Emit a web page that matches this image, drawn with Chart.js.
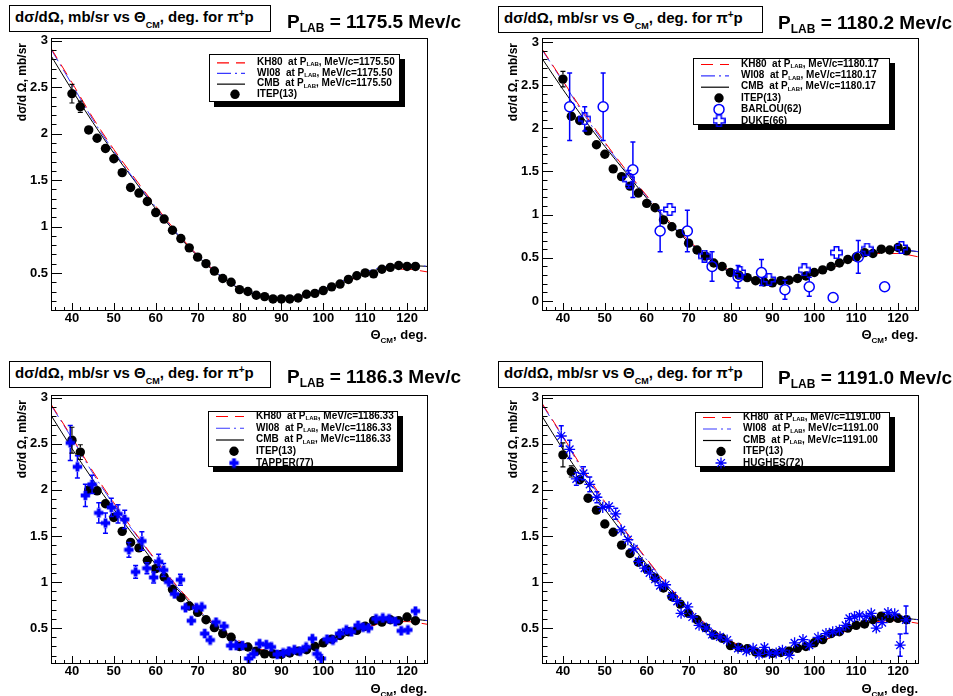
<!DOCTYPE html>
<html>
<head>
<meta charset="utf-8">
<script src="https://cdn.jsdelivr.net/npm/chart.js@4.4.1/dist/chart.umd.min.js"></script>
<style>
  body { margin: 0; background: #fff; }
  #page { position: relative; width: 953px; height: 696px; overflow: hidden;
          font-family: 'Liberation Sans', Arial, Helvetica, sans-serif; font-weight: bold; color: #000; }
  .pane { position: absolute; }
  .tbox { position: absolute; z-index: 2; box-sizing: border-box; height: 27px; border: 1px solid #000;
          background: #fff; font-size: 15px; line-height: 15px; padding: 3px 0 0 5px; white-space: nowrap; }
  .tbox sub { font-size: 9px; line-height: 0; vertical-align: -6px; }
  .tbox sup { font-size: 10px; line-height: 0; vertical-align: 5px; }
  .plab { position: absolute; z-index: 2; font-size: 19px; line-height: 19px; white-space: nowrap; }
  .plab sub { font-size: 12px; line-height: 0; vertical-align: -4px; }
  .ytitle { position: absolute; z-index: 2; font-size: 12px; line-height: 12px; white-space: nowrap;
            writing-mode: vertical-rl; transform: rotate(180deg); }
  .xtitle { position: absolute; z-index: 2; font-size: 13px; line-height: 13px; white-space: nowrap; }
  .xtitle sub { font-size: 8px; line-height: 0; vertical-align: -4px; }
</style>
</head>
<body>
<div id="page"></div>
<script>
// ---------------------------------------------------
// pi+ p elastic dσ/dΩ, four momenta — ROOT style look
// ---------------------------------------------------

const X_TICKS = [40, 50, 60, 70, 80, 90, 100, 110, 120];
const Y_TICKS = [0, 0.5, 1, 1.5, 2, 2.5, 3];

const MOMENTA = ['1175.50', '1180.17', '1186.33', '1191.00'];
const PLAB_LABELS = ['1175.5', '1180.2', '1186.3', '1191.0'];

// theory curves (PWA solutions)
const CURVE_ANGLES = [35, 40, 45, 50, 55, 60, 65, 70, 75, 80, 85, 90, 95, 100, 105, 110, 115, 120, 125];
const KH80_1 = [2.92, 2.55, 2.17, 1.83, 1.52, 1.22, 0.94, 0.69, 0.49, 0.34, 0.26, 0.23, 0.25, 0.31, 0.40, 0.48, 0.54, 0.54, 0.51];
const WI08_1 = [2.91, 2.53, 2.15, 1.81, 1.50, 1.21, 0.93, 0.69, 0.49, 0.34, 0.26, 0.23, 0.26, 0.33, 0.42, 0.51, 0.57, 0.59, 0.57];
const CMB_1  = [2.84, 2.47, 2.12, 1.79, 1.49, 1.19, 0.92, 0.68, 0.48, 0.33, 0.25, 0.22, 0.24, 0.31, 0.40, 0.49, 0.56, 0.58, 0.57];
const KH80_2 = [2.92, 2.55, 2.18, 1.84, 1.52, 1.22, 0.94, 0.70, 0.50, 0.35, 0.26, 0.23, 0.25, 0.31, 0.40, 0.49, 0.55, 0.55, 0.51];
const WI08_2 = [2.91, 2.54, 2.16, 1.82, 1.51, 1.21, 0.94, 0.69, 0.49, 0.34, 0.26, 0.23, 0.26, 0.33, 0.43, 0.52, 0.58, 0.60, 0.57];
const CMB_2  = [2.81, 2.45, 2.11, 1.79, 1.49, 1.19, 0.92, 0.68, 0.48, 0.33, 0.25, 0.22, 0.24, 0.31, 0.40, 0.49, 0.56, 0.59, 0.57];
const KH80_3 = [2.93, 2.57, 2.20, 1.86, 1.54, 1.24, 0.96, 0.71, 0.51, 0.36, 0.27, 0.24, 0.26, 0.32, 0.41, 0.50, 0.56, 0.57, 0.54];
const WI08_3 = [2.92, 2.56, 2.18, 1.84, 1.53, 1.23, 0.95, 0.71, 0.50, 0.35, 0.27, 0.24, 0.27, 0.34, 0.44, 0.53, 0.59, 0.61, 0.58];
const CMB_3  = [2.81, 2.45, 2.11, 1.79, 1.49, 1.19, 0.93, 0.69, 0.49, 0.34, 0.26, 0.23, 0.25, 0.32, 0.41, 0.50, 0.57, 0.60, 0.58];
const KH80_4 = [2.94, 2.58, 2.21, 1.87, 1.55, 1.25, 0.97, 0.72, 0.51, 0.36, 0.27, 0.24, 0.26, 0.32, 0.42, 0.51, 0.57, 0.58, 0.55];
const WI08_4 = [2.93, 2.57, 2.19, 1.85, 1.54, 1.24, 0.96, 0.71, 0.51, 0.36, 0.27, 0.24, 0.27, 0.35, 0.45, 0.54, 0.60, 0.62, 0.59];
const CMB_4  = [2.80, 2.44, 2.11, 1.79, 1.49, 1.19, 0.93, 0.69, 0.49, 0.34, 0.26, 0.23, 0.25, 0.32, 0.42, 0.51, 0.58, 0.61, 0.59];

// ITEP(13) measurements
const ITEP_ANGLES = [40, 42, 44, 46, 48, 50, 52, 54, 56, 58, 60, 62, 64, 66, 68, 70, 72, 74, 76, 78, 80,
                     82, 84, 86, 88, 90, 92, 94, 96, 98, 100, 102, 104, 106, 108, 110, 112, 114, 116, 118, 120, 122];
const ITEP_1 = [2.43, 2.29, 2.04, 1.95, 1.84, 1.73, 1.58, 1.42, 1.36, 1.27, 1.15, 1.08, 0.96, 0.87, 0.77, 0.67, 0.60, 0.52, 0.44, 0.40, 0.32,
                0.30, 0.26, 0.245, 0.22, 0.22, 0.22, 0.23, 0.27, 0.28, 0.31, 0.35, 0.38, 0.43, 0.47, 0.50, 0.49, 0.54, 0.56, 0.58, 0.57, 0.57];
const ITEP_2 = [2.57, 2.14, 2.09, 1.97, 1.81, 1.70, 1.53, 1.44, 1.33, 1.25, 1.13, 1.08, 0.94, 0.86, 0.78, 0.67, 0.59, 0.52, 0.44, 0.40, 0.33,
                0.30, 0.27, 0.235, 0.22, 0.21, 0.235, 0.24, 0.26, 0.29, 0.33, 0.36, 0.40, 0.44, 0.48, 0.51, 0.56, 0.55, 0.60, 0.59, 0.62, 0.58];
const ITEP_3 = [2.54, 2.41, 2.00, 1.99, 1.85, 1.70, 1.55, 1.43, 1.37, 1.235, 1.145, 1.055, 0.92, 0.83, 0.74, 0.67, 0.59, 0.505, 0.44, 0.40, 0.30,
                0.295, 0.25, 0.22, 0.22, 0.215, 0.23, 0.25, 0.265, 0.30, 0.34, 0.38, 0.42, 0.46, 0.475, 0.52, 0.58, 0.565, 0.59, 0.58, 0.62, 0.58];
const ITEP_4 = [2.38, 2.20, 2.11, 1.91, 1.78, 1.63, 1.54, 1.40, 1.31, 1.215, 1.14, 1.045, 0.935, 0.84, 0.76, 0.66, 0.59, 0.505, 0.425, 0.39, 0.31,
                0.29, 0.275, 0.24, 0.23, 0.225, 0.235, 0.25, 0.28, 0.30, 0.34, 0.375, 0.44, 0.46, 0.50, 0.53, 0.545, 0.59, 0.63, 0.605, 0.605, 0.59];
const ITEP_ERR_1 = [0.10, 0.06, 0.04, 0.04, 0.04, 0.04, 0.03, 0.03, 0.03, 0.03, 0.03, 0.03, 0.02, 0.02, 0.02, 0.02, 0.02, 0.02, 0.02, 0.02, 0.02,
                    0.02, 0.02, 0.02, 0.02, 0.02, 0.02, 0.02, 0.02, 0.02, 0.02, 0.02, 0.02, 0.02, 0.02, 0.02, 0.02, 0.02, 0.02, 0.02, 0.02, 0.02];
const ITEP_ERR_2 = [0.09, 0.05, 0.04, 0.04, 0.04, 0.04, 0.03, 0.03, 0.03, 0.03, 0.03, 0.03, 0.02, 0.02, 0.02, 0.02, 0.02, 0.02, 0.02, 0.02, 0.02,
                    0.02, 0.02, 0.02, 0.02, 0.02, 0.02, 0.02, 0.02, 0.02, 0.02, 0.02, 0.02, 0.02, 0.02, 0.02, 0.02, 0.02, 0.02, 0.02, 0.02, 0.02];
const ITEP_ERR_3 = [0.14, 0.08, 0.04, 0.04, 0.04, 0.04, 0.03, 0.03, 0.03, 0.03, 0.03, 0.03, 0.02, 0.02, 0.02, 0.02, 0.02, 0.02, 0.02, 0.02, 0.02,
                    0.02, 0.02, 0.02, 0.02, 0.02, 0.02, 0.02, 0.02, 0.02, 0.02, 0.02, 0.02, 0.02, 0.02, 0.02, 0.02, 0.02, 0.02, 0.02, 0.02, 0.02];
const ITEP_ERR_4 = [0.13, 0.06, 0.04, 0.04, 0.04, 0.04, 0.03, 0.03, 0.03, 0.03, 0.03, 0.03, 0.02, 0.02, 0.02, 0.02, 0.02, 0.02, 0.02, 0.02, 0.02,
                    0.02, 0.02, 0.02, 0.02, 0.02, 0.02, 0.02, 0.02, 0.02, 0.02, 0.02, 0.02, 0.02, 0.02, 0.02, 0.02, 0.02, 0.02, 0.02, 0.02, 0.02];

// BARLOU(62), DUKE(66) at 1180.2
const BARLOU_ANGLES = [41.6, 49.6, 56.7, 63.2, 69.7, 75.6, 81.8, 87.4, 93.0, 98.8, 104.5, 110.5, 116.8];
const BARLOU       = [2.25, 2.25, 1.52, 0.81, 0.81, 0.40, 0.28, 0.33, 0.13, 0.165, 0.04, 0.51, 0.165];
const BARLOU_ERR   = [0.39, 0.39, 0.32, 0.24, 0.24, 0.17, 0.13, 0.15, 0.11, 0.11, 0.02, 0.19, 0.02];
const DUKE_ANGLES = [45.2, 55.7, 65.5, 73.8, 82.2, 89.2, 97.6, 105.3, 112.6, 120.8];
const DUKE        = [2.11, 1.41, 1.06, 0.52, 0.33, 0.25, 0.36, 0.56, 0.60, 0.62];
const DUKE_ERR    = [0.14, 0.10, 0.03, 0.03, 0.05, 0.04, 0.05, 0.03, 0.04, 0.03];

// TAPPER(77) at 1186.3
const TAPPER_ANGLES = [39.6, 41.3, 43.2, 44.8, 46.4, 48.0, 49.4, 51.0, 52.6, 53.6, 55.2, 56.7, 57.9, 59.5, 60.7, 61.9, 63.1, 64.5, 65.9,
                       67.1, 68.5, 69.7, 71.0, 71.7, 73.0, 74.4, 76.3, 77.9, 79.2, 80.7, 82.2, 83.4, 84.8, 86.4, 87.6, 89.0, 90.4,
                       91.8, 93.1, 94.5, 95.9, 97.4, 98.5, 99.5, 100.9, 102.3, 103.9, 105.5, 106.7, 108.3, 109.5, 110.8, 112.6,
                       114.2, 115.7, 117.2, 118.6, 120.2, 122.0];
const TAPPER = [2.51, 2.25, 1.94, 2.06, 1.75, 1.64, 1.81, 1.74, 1.68, 1.35, 1.11, 1.445, 1.15, 1.05, 1.22, 1.13, 1.00, 0.87, 1.025,
                0.72, 0.58, 0.72, 0.73, 0.44, 0.37, 0.565, 0.52, 0.31, 0.31, 0.31, 0.17, 0.22, 0.33, 0.32, 0.295, 0.215, 0.23,
                0.25, 0.265, 0.25, 0.295, 0.385, 0.22, 0.17, 0.38, 0.37, 0.44, 0.48, 0.46, 0.53, 0.51, 0.50, 0.60,
                0.61, 0.60, 0.57, 0.47, 0.48, 0.685];
const TAPPER_ERR = [0.19, 0.12, 0.12, 0.10, 0.11, 0.11, 0.10, 0.10, 0.10, 0.08, 0.07, 0.10, 0.06, 0.06, 0.08, 0.07, 0.05, 0.05, 0.06,
                    0.05, 0.05, 0.05, 0.05, 0.04, 0.04, 0.04, 0.04, 0.03, 0.03, 0.03, 0.03, 0.03, 0.03, 0.03, 0.03, 0.03, 0.03,
                    0.03, 0.03, 0.03, 0.03, 0.04, 0.03, 0.03, 0.03, 0.03, 0.03, 0.03, 0.03, 0.03, 0.03, 0.03, 0.03,
                    0.03, 0.03, 0.03, 0.03, 0.03, 0.05];

// HUGHES(72) at 1191.0
const HUGHES_ANGLES = [39.6, 41.6, 43.2, 44.9, 46.4, 48.1, 49.5, 51.0, 52.6, 53.9, 55.5, 56.9, 58.1, 59.5, 60.7, 62.0, 63.2, 64.5,
                       66.1, 67.3, 68.2, 69.8, 70.9, 72.5, 74.2, 75.6, 77.5, 79.2, 81.8, 83.8, 85.4, 86.8, 88.1, 89.3, 90.9, 92.4,
                       94.0, 95.3, 97.3, 98.8, 100.9, 102.8, 104.4, 106.0, 107.5, 108.4, 109.6, 110.8, 112.4, 113.6, 114.8,
                       116.2, 117.6, 119.2, 120.5, 121.9];
const HUGHES = [2.585, 2.44, 2.12, 2.18, 2.06, 1.92, 1.81, 1.82, 1.74, 1.565, 1.46, 1.36, 1.225, 1.15, 1.10, 1.03, 0.96, 0.97,
                0.85, 0.79, 0.66, 0.73, 0.62, 0.53, 0.50, 0.43, 0.405, 0.37, 0.28, 0.25, 0.28, 0.215, 0.29, 0.225, 0.23, 0.26,
                0.205, 0.34, 0.375, 0.315, 0.40, 0.44, 0.46, 0.48, 0.53, 0.605, 0.625, 0.64, 0.625, 0.66, 0.50,
                0.56, 0.67, 0.655, 0.315, 0.59];
const HUGHES_ERR = [0.11, 0.10, 0.07, 0.07, 0.08, 0.06, 0.05, 0.05, 0.06, 0.05, 0.05, 0.04, 0.04, 0.04, 0.04, 0.04, 0.04, 0.04,
                    0.03, 0.03, 0.03, 0.03, 0.03, 0.03, 0.03, 0.02, 0.02, 0.02, 0.02, 0.02, 0.02, 0.02, 0.02, 0.02, 0.02, 0.02,
                    0.02, 0.02, 0.02, 0.02, 0.02, 0.02, 0.02, 0.02, 0.02, 0.02, 0.03, 0.03, 0.03, 0.03, 0.04,
                    0.03, 0.05, 0.04, 0.12, 0.15];

// ── look ──────────────────────────────────────────
const ROOT_FONT = "'Liberation Sans', Arial, Helvetica, sans-serif";
const BLUE = '#0000ff';
const LINE_STYLES = {
  KH80: { color: '#ff0000', dash: [12, 7] },
  WI08: { color: '#3838ff', dash: [14, 4, 2, 4] },
  CMB:  { color: '#000000', dash: [] },
};

function crossImage(size, arm, filled) {
  const c = document.createElement('canvas');
  c.width = c.height = size;
  const g = c.getContext('2d');
  const h = size / 2, a = arm / 2, e = size / 2 - 0.8;
  g.beginPath();
  g.moveTo(h - a, h - e); g.lineTo(h + a, h - e); g.lineTo(h + a, h - a); g.lineTo(h + e, h - a);
  g.lineTo(h + e, h + a); g.lineTo(h + a, h + a); g.lineTo(h + a, h + e); g.lineTo(h - a, h + e);
  g.lineTo(h - a, h + a); g.lineTo(h - e, h + a); g.lineTo(h - e, h - a); g.lineTo(h - a, h - a);
  g.closePath();
  if (filled) { g.fillStyle = BLUE; g.fill(); }
  else { g.strokeStyle = BLUE; g.lineWidth = 1.5; g.stroke(); }
  return c;
}

const MARKERS = {
  ITEP:   { kind: 'dot',  color: '#000', r: 4.7 },
  BARLOU: { kind: 'ring', color: BLUE, r: 5 },
  DUKE:   { kind: 'img',  color: BLUE, r: 6, img: crossImage(13, 4.5, false) },
  TAPPER: { kind: 'img',  color: BLUE, r: 5, img: crossImage(11, 3.8, true) },
  HUGHES: { kind: 'star', color: BLUE, r: 5.5 },
};

// page layout (canvas-relative chart areas, legend boxes)
const PANELS = [
  { left: 0,   top: 0,   w: 476, h: 348, area: { l: 51, r: 428, t: 38, b: 311 }, yMin: 0.09,  yMax: 3.03,
    legend: { x: 209, y: 54, w: 191, h: 48, first: 8.3, step: 10.67 },
    tbox: [9, 5, 262], plab: [287, 12], ytitle: [16, 43], xtitle: [526, 328] },
  { left: 476, top: 0,   w: 477, h: 348, area: { l: 66, r: 443, t: 38, b: 311 }, yMin: -0.116, yMax: 3.046,
    legend: { x: 217, y: 58, w: 197, h: 67, first: 6, step: 11.35 },
    tbox: [498, 6, 265], plab: [778, 13], ytitle: [507, 43], xtitle: [35, 328] },
  { left: 0,   top: 348, w: 476, h: 348, area: { l: 51, r: 428, t: 47, b: 316 }, yMin: 0.11,  yMax: 3.03,
    legend: { x: 208, y: 63, w: 190, h: 56, first: 5, step: 11.75 },
    tbox: [9, 361, 262], plab: [287, 367], ytitle: [16, 400], xtitle: [526, 682] },
  { left: 476, top: 348, w: 477, h: 348, area: { l: 66, r: 443, t: 47, b: 316 }, yMin: 0.11,  yMax: 3.03,
    legend: { x: 219, y: 64, w: 195, h: 55, first: 5, step: 11.5 },
    tbox: [498, 361, 265], plab: [778, 368], ytitle: [507, 400], xtitle: [35, 682] },
];

const toXY = (xs, ys) => xs.map((x, i) => ({ x, y: ys[i] }));

function curveSet(name, ys) {
  const s = LINE_STYLES[name];
  return {
    label: name, data: toXY(CURVE_ANGLES, ys), showLine: true, pointRadius: 0,
    borderColor: s.color, borderWidth: 1, borderDash: s.dash,
    cubicInterpolationMode: 'monotone', fill: false, order: 10,
  };
}

function pointSet(name, xs, ys, errs, order) {
  const m = MARKERS[name];
  const ds = { label: name, data: toXY(xs, ys), showLine: false, order,
               errors: errs, errColor: m.color, errGap: m.r, pointRadius: m.r };
  if (m.kind === 'dot') Object.assign(ds, { pointStyle: 'circle', pointBackgroundColor: m.color, pointBorderWidth: 0 });
  if (m.kind === 'ring') Object.assign(ds, { pointStyle: 'circle', pointBackgroundColor: 'rgba(0,0,0,0)', pointBorderColor: m.color, pointBorderWidth: 1.5 });
  if (m.kind === 'img') Object.assign(ds, { pointStyle: m.img });
  if (m.kind === 'star') Object.assign(ds, { pointStyle: 'star', pointBorderColor: m.color, pointBorderWidth: 1.3 });
  return ds;
}

function drawMarker(ctx, m, x, y) {
  if (m.kind === 'img') { ctx.drawImage(m.img, x - m.img.width / 2, y - m.img.height / 2); return; }
  ctx.beginPath();
  if (m.kind === 'star') {
    for (let k = 0; k < 4; k++) {
      const t = k * Math.PI / 4;
      ctx.moveTo(x - m.r * Math.cos(t), y - m.r * Math.sin(t));
      ctx.lineTo(x + m.r * Math.cos(t), y + m.r * Math.sin(t));
    }
    ctx.strokeStyle = m.color; ctx.lineWidth = 1.3; ctx.stroke();
    return;
  }
  ctx.arc(x, y, m.r, 0, Math.PI * 2);
  if (m.kind === 'dot') { ctx.fillStyle = m.color; ctx.fill(); }
  else { ctx.strokeStyle = m.color; ctx.lineWidth = 1.5; ctx.stroke(); }
}

// ── plugins ───────────────────────────────────────
const errorBars = {
  id: 'errorBars',
  afterDatasetsDraw(chart) {
    const { ctx, chartArea: a, scales: { y } } = chart;
    ctx.save();
    ctx.beginPath(); ctx.rect(a.left, a.top, a.right - a.left, a.bottom - a.top); ctx.clip();
    chart.data.datasets.forEach((ds, i) => {
      if (!ds.errors) return;
      ctx.strokeStyle = ds.errColor;
      ctx.lineWidth = ds.errColor === BLUE ? 1.5 : 1.2;
      chart.getDatasetMeta(i).data.forEach((pt, j) => {
        const v = ds.data[j].y, e = ds.errors[j], g = ds.errGap;
        const top = y.getPixelForValue(v + e), bot = y.getPixelForValue(v - e);
        ctx.beginPath();
        if (pt.y - top > g) {
          ctx.moveTo(pt.x, pt.y - g); ctx.lineTo(pt.x, top);
          ctx.moveTo(pt.x - 2.5, top); ctx.lineTo(pt.x + 2.5, top);
        }
        if (bot - pt.y > g) {
          ctx.moveTo(pt.x, pt.y + g); ctx.lineTo(pt.x, bot);
          ctx.moveTo(pt.x - 2.5, bot); ctx.lineTo(pt.x + 2.5, bot);
        }
        ctx.stroke();
      });
    });
    ctx.restore();
  }
};

const rootFrame = {
  id: 'rootFrame',
  afterDraw(chart) {
    const { ctx, chartArea: a, scales: { x, y } } = chart;
    ctx.save();
    ctx.strokeStyle = '#000';
    ctx.lineWidth = 1;
    ctx.setLineDash([]);
    ctx.strokeRect(a.left + 0.5, a.top + 0.5, a.right - a.left - 1, a.bottom - a.top - 1);
    ctx.beginPath();
    for (let v = 36; v <= 124; v += 2) {
      const px = Math.round(x.getPixelForValue(v)) + 0.5;
      const len = X_TICKS.includes(v) ? 8 : 4;
      ctx.moveTo(px, a.bottom); ctx.lineTo(px, a.bottom - len);
    }
    for (let k = Math.ceil(y.min * 10); k <= Math.floor(y.max * 10); k++) {
      const py = Math.round(y.getPixelForValue(k / 10)) + 0.5;
      const len = k % 5 === 0 ? 11 : 5.5;
      ctx.moveTo(a.left, py); ctx.lineTo(a.left + len, py);
    }
    ctx.stroke();
    ctx.restore();
  }
};

function legendPlugin(L, entries) {
  return {
    id: 'rootLegend',
    afterDraw(chart) {
      const ctx = chart.ctx, b = L.legend;
      ctx.save();
      ctx.fillStyle = '#000';
      ctx.fillRect(b.x + 5, b.y + 5, b.w, b.h);
      ctx.fillStyle = '#fff';
      ctx.fillRect(b.x, b.y, b.w, b.h);
      ctx.strokeStyle = '#000'; ctx.lineWidth = 1;
      ctx.strokeRect(b.x + 0.5, b.y + 0.5, b.w - 1, b.h - 1);
      entries.forEach((en, i) => {
        const yy = b.y + b.first + i * b.step;
        if (en.line) {
          const s = LINE_STYLES[en.line];
          ctx.beginPath();
          ctx.setLineDash(s.dash);
          ctx.strokeStyle = s.color; ctx.lineWidth = 1.2;
          ctx.moveTo(b.x + 8, yy + 0.5); ctx.lineTo(b.x + 36, yy + 0.5);
          ctx.stroke();
          ctx.setLineDash([]);
        } else {
          drawMarker(ctx, MARKERS[en.marker], b.x + 26, yy);
        }
        let tx = b.x + 48;
        ctx.fillStyle = '#000';
        ctx.textBaseline = 'middle';
        en.parts.forEach(p => {
          ctx.font = `bold ${p.sub ? 6 : 10}px ${ROOT_FONT}`;
          ctx.fillText(p.t, tx, p.sub ? yy + 2.5 : yy);
          tx += ctx.measureText(p.t).width;
        });
      });
      ctx.restore();
    }
  };
}

// ── build ─────────────────────────────────────────
const page = document.getElementById('page');

function addDiv(cls, html, style) {
  const d = document.createElement('div');
  d.className = cls;
  d.innerHTML = html;
  Object.assign(d.style, style);
  page.appendChild(d);
  return d;
}

function makePanel(idx, datasets, extra) {
  const L = PANELS[idx];
  const pane = addDiv('pane', '', { left: L.left + 'px', top: L.top + 'px', width: L.w + 'px', height: L.h + 'px' });
  const canvas = document.createElement('canvas');
  pane.appendChild(canvas);

  const mom = MOMENTA[idx];
  const entries = ['KH80', 'WI08', 'CMB'].map(n => ({
    line: n, parts: [{ t: `${n}  at P` }, { t: 'LAB', sub: true }, { t: `, MeV/c=${mom}` }]
  }));
  entries.push({ marker: 'ITEP', parts: [{ t: 'ITEP(13)' }] });
  extra.forEach(e => entries.push({ marker: e[0], parts: [{ t: e[1] }] }));

  const tickFont = { family: ROOT_FONT, size: 13, weight: 'bold' };

  new Chart(canvas, {
    type: 'scatter',
    data: { datasets },
    options: {
      responsive: true,
      maintainAspectRatio: false,
      animation: false,
      events: [],
      layout: { padding: { left: 0, top: L.area.t, right: L.w - L.area.r, bottom: 0 } },
      plugins: { legend: { display: false }, tooltip: { enabled: false } },
      scales: {
        x: {
          type: 'linear', min: 35, max: 125,
          grid: { display: false, drawTicks: false }, border: { display: false },
          afterBuildTicks: s => { s.ticks = X_TICKS.map(v => ({ value: v })); },
          afterFit: s => { s.height = L.h - L.area.b; },
          ticks: { padding: 0, color: '#000', font: tickFont, maxRotation: 0, autoSkip: false, callback: v => String(v) }
        },
        y: {
          type: 'linear', min: L.yMin, max: L.yMax,
          grid: { display: false, drawTicks: false }, border: { display: false },
          afterBuildTicks: s => { s.ticks = Y_TICKS.filter(v => v >= L.yMin && v <= L.yMax).map(v => ({ value: v })); },
          afterFit: s => { s.width = L.area.l; },
          ticks: { padding: 3, color: '#000', font: tickFont, autoSkip: false, callback: v => String(v) }
        }
      }
    },
    plugins: [errorBars, rootFrame, legendPlugin(L, entries)]
  });

  addDiv('tbox', 'dσ/dΩ, mb/sr vs Θ<sub>CM</sub>, deg. for π<sup>+</sup>p',
         { left: L.tbox[0] + 'px', top: L.tbox[1] + 'px', width: L.tbox[2] + 'px' });
  addDiv('plab', `P<sub>LAB</sub> = ${PLAB_LABELS[idx]} Mev/c`, { left: L.plab[0] + 'px', top: L.plab[1] + 'px' });
  addDiv('ytitle', 'dσ/d<span style="margin-top:3px;display:inline-block">Ω</span>, mb/sr',
         { left: L.ytitle[0] + 'px', top: L.ytitle[1] + 'px' });
  addDiv('xtitle', 'Θ<sub>CM</sub>, deg.', { right: L.xtitle[0] + 'px', top: L.xtitle[1] + 'px' });
}

Chart.defaults.font.family = ROOT_FONT;

makePanel(0, [
  pointSet('ITEP', ITEP_ANGLES, ITEP_1, ITEP_ERR_1, 2),
  curveSet('KH80', KH80_1), curveSet('WI08', WI08_1), curveSet('CMB', CMB_1),
], []);

makePanel(1, [
  pointSet('DUKE', DUKE_ANGLES, DUKE, DUKE_ERR, 0),
  pointSet('BARLOU', BARLOU_ANGLES, BARLOU, BARLOU_ERR, 1),
  pointSet('ITEP', ITEP_ANGLES, ITEP_2, ITEP_ERR_2, 2),
  curveSet('KH80', KH80_2), curveSet('WI08', WI08_2), curveSet('CMB', CMB_2),
], [['BARLOU', 'BARLOU(62)'], ['DUKE', 'DUKE(66)']]);

makePanel(2, [
  pointSet('TAPPER', TAPPER_ANGLES, TAPPER, TAPPER_ERR, 1),
  pointSet('ITEP', ITEP_ANGLES, ITEP_3, ITEP_ERR_3, 2),
  curveSet('KH80', KH80_3), curveSet('WI08', WI08_3), curveSet('CMB', CMB_3),
], [['TAPPER', 'TAPPER(77)']]);

makePanel(3, [
  pointSet('HUGHES', HUGHES_ANGLES, HUGHES, HUGHES_ERR, 1),
  pointSet('ITEP', ITEP_ANGLES, ITEP_4, ITEP_ERR_4, 2),
  curveSet('KH80', KH80_4), curveSet('WI08', WI08_4), curveSet('CMB', CMB_4),
], [['HUGHES', 'HUGHES(72)']]);
</script>
</body>
</html>
